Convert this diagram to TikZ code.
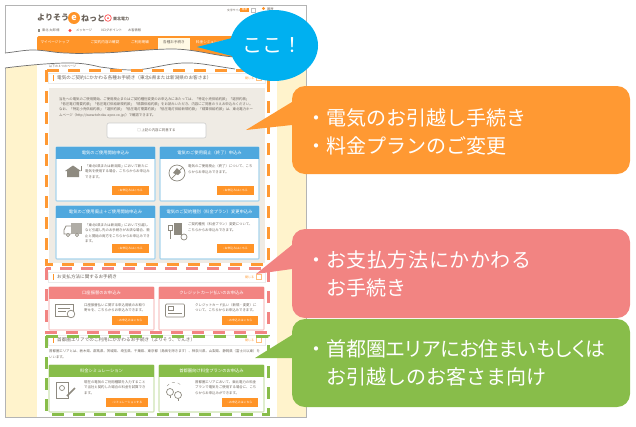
\documentclass[tikz,border=0pt]{standalone}
\usepackage{fontspec}
\setmainfont{Noto Sans CJK JP}
\newfontfamily\paltfont[RawFeature=+palt]{Noto Sans CJK JP}
\newfontfamily\widefont[LetterSpace=3]{Noto Sans CJK JP}
\usepackage{xcolor}
\definecolor{creambg}{HTML}{FFF3CC}
\definecolor{panelgrey}{HTML}{EFEBE4}
\definecolor{pageline}{HTML}{B4B4B4}
\definecolor{tearline}{HTML}{6E6E6E}
\definecolor{iconcol}{HTML}{8E8A80}
\definecolor{inktext}{HTML}{6A625A}
\definecolor{tiporange}{HTML}{FF9933}
\definecolor{btnorange}{HTML}{FF9428}
\definecolor{tipblue}{HTML}{00B0F0}
\definecolor{tippink}{HTML}{F28482}
\definecolor{tipgreen}{HTML}{88BD4A}
\definecolor{headblue}{HTML}{4FA8DE}
\definecolor{lineblue}{HTML}{A8D4EE}
\definecolor{linepink}{HTML}{F8C8C8}
\definecolor{linegreen}{HTML}{CFE4B4}
\newcommand{\appcard}[8]{%
  \fill[white] (#2,#3) rectangle (#4,#5);
  \draw[#7,line width=1.1pt,rounded corners=0.8pt] (#2,#3) rectangle (#4,#5);
  \fill[#6] (#2,#3) rectangle (#4,#3+12);
  \node[cardhead] (#1) at ({(#2+#4)/2},#3+6) {#8};
}
\newcommand{\appbtn}[6]{%
  \fill[btnorange] (#2,#3) rectangle (#4,#5);
  \node[btntext] (#1) at ({(#2+#4)/2},{(#3+#5)/2}) {› #6};
}
\newcommand{\secthead}[3]{%
  \draw[black!8] (48,#2-5) rectangle (265,#2+5);
  \fill[btnorange] (52.5,#2-3) rectangle (54,#2+3);
  \node[secttitle] (#1) at (57,#2) {#3};
  \node[closetext] (#1c) at (245,#2) {閉じる};
  \draw[btnorange!60] (256,#2-2.5) rectangle (261,#2+2.5);
}
\begin{document}
\begin{tikzpicture}[x=1pt,y=-1pt]
	\tikzset{
		cardhead/.style={font=\fontsize{4.3}{5}\selectfont,text=white,inner sep=0},
		btntext/.style={font=\fontsize{2.9}{4}\selectfont,text=white,inner sep=0},
		secttitle/.style={font=\fontsize{4.6}{5}\selectfont,text=inktext,anchor=west,inner sep=0},
		closetext/.style={font=\fontsize{3}{4}\selectfont,text=btnorange,anchor=west,inner sep=0},
		bodytext/.style={font=\fontsize{3.4}{5.4}\selectfont,text=inktext,anchor=north west,align=left,inner sep=0},
		navtext/.style={font=\fontsize{3.2}{4}\selectfont,text=inktext,anchor=west,inner sep=0},
		tabtext/.style={font=\fontsize{3.6}{4}\selectfont,text=white,inner sep=0},
		tiptext/.style={font=\fontsize{20}{28}\selectfont,text=white,anchor=north west,align=left,inner sep=0},
		logotext/.style={font=\fontsize{8}{9}\selectfont\bfseries,text=inktext,anchor=west,inner sep=0},
		iconline/.style={iconcol,line width=0.7pt},
		dashbox/.style={line width=3pt,dash pattern=on 12pt off 9pt},
	}
	\useasboundingbox (0,0) rectangle (636,426);
	
	% page
	\fill[creambg] (5,5) rectangle (37,417);
	\fill[creambg] (277,5) rectangle (306,417);
	\fill[white] (5,5) rectangle (306,60);
	\draw[pageline,line width=1pt] (5,5) rectangle (306,417);
	
	% header of the page
	\node[logotext] (logoa) at (37,18) {よりそう};
	\fill[btnorange] (74,18) circle (6);
	\node[font=\fontsize{9}{9}\selectfont\bfseries,text=white,inner sep=0] (logoe) at (74,17.6) {e};
	\node[logotext] (logob) at (81,18) {ねっと};
	\draw[red!70,line width=0.7pt] (108,18) circle (3.3);
	\fill[red!70] (108,18) circle (1);
	\node[font=\fontsize{4}{5}\selectfont\bfseries,text=inktext,anchor=west,inner sep=0] (logoc) at (113,19) {東北電力};
	\fill[iconcol] (38,28.5) rectangle (40,31.5);
	\node[navtext] (navname) at (42,30) {東北\ 太郎\ 様};
	\fill[red!75] (70,30.5) circle (1.7);
	\node[navtext] (navmsg) at (76,30) {メッセージ};
	\node[navtext] (navpoint) at (101,30) {0ログポイント};
	\node[navtext] (navinfo) at (128,30) {お客情報};
	\node[font=\fontsize{2.8}{3}\selectfont,text=inktext,anchor=west,inner sep=0] (sizetext) at (227,10) {文字サイズ};
	\fill[btnorange] (240,8) rectangle (249,12);
	\node[font=\fontsize{2.6}{3}\selectfont,text=white,inner sep=0] (sizemid) at (244.5,10) {標準};
	\draw[black!25,line width=0.3pt] (251,8) rectangle (255,12);
	\fill[btnorange] (263.5,8.5) circle (1.6);
	\node[navtext] (helptext) at (267,9) {履歴};
	
	% tabs
	\fill[btnorange,rounded corners=1.5pt] (37,36) rectangle (240,60);
	\fill[creambg!50] (158,38) rectangle (190,60);
	\node[tabtext] (taba) at (55,42) {マイページトップ};
	\node[tabtext] (tabb) at (105,42) {ご契約内容の確認};
	\node[tabtext] (tabc) at (140,42) {ご利用明細};
	\node[tabtext,text=inktext] (tabd) at (174,42) {各種お手続き};
	\node[tabtext] (tabe) at (214,42) {料金シミュレーション};
	
	% tear
	\fill[white] (5,53) .. controls (15,52) and (24,50) .. (33,50) .. controls (45,50) and (55,53) .. (67,53)
		.. controls (80,54) and (90,53) .. (100,53) .. controls (115,53) and (150,49) .. (172,49)
		.. controls (195,49) and (215,56) .. (235,57) -- (306,57) -- (306,62) -- (235,69)
		.. controls (215,66) and (200,63) .. (190,63) .. controls (170,62) and (150,70) .. (133,70)
		.. controls (118,70) and (110,68) .. (100,67) .. controls (85,63) and (75,63) .. (67,63)
		.. controls (50,63) and (20,66) .. (5,68) -- cycle;
	\draw[tearline,line width=0.7pt] (5,53) .. controls (15,52) and (24,50) .. (33,50) .. controls (45,50) and (55,53) .. (67,53)
		.. controls (80,54) and (90,53) .. (100,53) .. controls (115,53) and (150,49) .. (172,49)
		.. controls (195,49) and (215,56) .. (235,57);
	\draw[tearline,line width=0.7pt] (5,68) .. controls (20,66) and (50,63) .. (67,63) .. controls (75,63) and (85,63) .. (100,67)
		.. controls (110,68) and (118,70) .. (133,70) .. controls (150,70) and (170,62) .. (190,63)
		.. controls (200,63) and (215,66) .. (235,69);
	\node[font=\fontsize{3}{4}\selectfont,text=inktext,anchor=west,inner sep=0] (sectlead) at (49,66) {以下の４つのページ};
	
	% section one
	\secthead{secta}{78}{電気のご契約にかかわる各種お手続き（東北6県または新潟県のお客さま）}
	\fill[panelgrey] (49,88) rectangle (265,263);
	\node[bodytext] (lawtext) at (59,97) {当社への電気のご使用開始、ご使用廃止またはご契約種別変更のお申込みにあたっては、「特定小売供給約款」「選択約款」\\「低圧電灯需要約款」「低圧電灯供給新規約款」「精算供給約款」をお読みいただき、内容にご同意のうえお申込みください。\\なお、「特定小売供給約款」「選択約款」「低圧電灯需要約款」「低圧電灯供給新規約款」「精算供給約款」は、東北電力ホー\\ムページ（http://www.tohoku-epco.co.jp/）で確認できます。};
	\draw[black!20,fill=white,rounded corners=2pt,line width=0.6pt] (107,123) rectangle (206,138);
	\node[font=\fontsize{3.4}{4}\selectfont,text=inktext,inner sep=0] (agree) at (156.5,130.5) {□ 上記の内容に同意する};
	
	\appcard{carda}{56}{147}{155}{201}{headblue}{lineblue}{電気のご使用開始申込み}
	\appcard{cardb}{160}{147}{259}{201}{headblue}{lineblue}{電気のご使用廃止（終了）申込み}
	\appcard{cardc}{56}{206}{155}{259}{headblue}{lineblue}{電気のご使用廃止＋ご使用開始申込み}
	\appcard{cardd}{160}{206}{259}{259}{headblue}{lineblue}{電気のご契約種別（料金プラン）変更申込み}
	\node[bodytext] (texta) at (85,164.5) {「東北6県または新潟県」において新たに\\電気を使用する場合、こちらからお申込み\\できます。};
	\node[bodytext] (textb) at (188,164.5) {電気のご使用廃止（終了）について、こち\\らからお申込みできます。};
	\node[bodytext] (textc) at (85,223.5) {「東北6県または新潟県」において引越し\\など引越し先のお手続きがお済な場合、廃\\止と開始の両方をこちらからお申込みでき\\ます。};
	\node[bodytext] (textd) at (188,222.5) {ご契約種別（料金プラン）変更について、\\こちらからお申込みできます。};
	\appbtn{btna}{112}{186}{149}{195}{お申込みはこちら}
	\appbtn{btnb}{217}{186}{254}{195}{お申込みはこちら}
	\appbtn{btnc}{112}{244}{149}{253}{お申込みはこちら}
	\appbtn{btnd}{217}{244}{254}{253}{お申込みはこちら}
	
	% icons, section one
	\fill[iconcol] (65,171) -- (73,165.5) -- (81,171) -- (79,171) -- (79,177) -- (67,177) -- (67,171) -- cycle;
	\draw[iconline] (81,171) -- (81,166);
	\draw[iconline] (177,173) circle (8);
	\draw[iconline] (171,179) -- (183,167);
	\fill[iconcol] (173,173) -- (177,168) -- (181,172) -- (178,175) -- cycle;
	\fill[iconcol!70] (71,223) rectangle (82,234);
	\draw[iconline] (71,226) -- (66,226) -- (64,230) -- (64,234) -- (71,234);
	\draw[iconline,fill=white] (68,235) circle (1.7) (77,235) circle (1.7);
	\draw[iconline] (168,225) rectangle (172,230);
	\draw[iconline] (170,230) -- (170,239);
	\fill[iconcol] (174,223) rectangle (182,235);
	\draw[iconline] (184,237) circle (3);
	
	% section two
	\secthead{sectb}{277}{お支払方法に関するお手続き}
	\appcard{carde}{49}{287}{154}{330}{tippink}{linepink}{口座振替のお申込み}
	\appcard{cardf}{159}{287}{264}{330}{tippink}{linepink}{クレジットカード払いのお申込み}
	\node[bodytext] (texte) at (84,303) {口座振替払いに関する申込用紙のお取り\\寄せを、こちらからお申込みできます。};
	\node[bodytext] (textf) at (195,303) {クレジットカード払い（新規・変更）に\\ついて、こちらからお申込みできます。};
	\appbtn{btne}{112}{316}{148}{325}{お申込みはこちら}
	\appbtn{btnf}{222}{316}{258}{325}{お申込みはこちら}
	\draw[iconline] (55.5,304) rectangle (73,316);
	\draw[iconline] (58,308) -- (70,308) (58,311) -- (66,311);
	\draw[iconline,fill=white] (71,314) circle (3.8);
	\draw[iconline,rounded corners=1pt] (165.5,304) rectangle (184.5,317);
	\draw[iconline] (168,313.5) -- (182,313.5);
	\draw[iconline] (168,306.5) rectangle (173,310.5);
	
	% section three
	\secthead{sectc}{340}{首都圏エリアでのご利用にかかわるお手続き（よりそう、でんき）}
	\node[bodytext] (areatext) at (49,349.5) {首都圏エリアとは、栃木県、群馬県、茨城県、埼玉県、千葉県、東京都（島嶼を除きます）、神奈川県、山梨県、静岡県（富士川以東）を\\いいます。};
	\appcard{cardg}{49}{365}{154}{412}{tipgreen}{linegreen}{料金シミュレーション}
	\appcard{cardh}{159}{365}{264}{412}{tipgreen}{linegreen}{首都圏向け料金プランのお申込み}
	\node[bodytext] (textg) at (84,380.5) {現在の電気のご利用種類を入力すること\\で当社と契約した場合の料金を試算でき\\ます。};
	\node[bodytext] (texth) at (195,380.5) {首都圏エリアにおいて、東北電力の料金\\プランで電気をご使用する場合に、こち\\らからお申込みができます。};
	\appbtn{btng}{106}{398}{148}{407}{シミュレーションする}
	\appbtn{btnh}{222}{398}{258}{407}{お申込みはこちら}
	\draw[iconline] (56,382) rectangle (68,398);
	\draw[iconline] (62,388) circle (2.5);
	\draw[iconcol,line width=1.5pt] (67,396) -- (75,388);
	\draw[iconline] (170,392) circle (3.5) (178,395) circle (3.5);
	\draw[iconline] (170,395.5) -- (170,398) (178,398.5) -- (178,401);
	\draw[iconcol,line width=0.3pt,dashed] (167,386) .. controls (170,381) and (178,381) .. (182,386);
	
	% dashed frames
	\draw[tiporange,dashbox] (46,70) rectangle (268,264);
	\draw[tippink,dashbox] (46,268) rectangle (268,332);
	\draw[tipgreen,dashbox] (46,336) rectangle (268,414);
	
	% callouts
	\fill[tipblue] (232,38) -- (197,47) -- (232,56) -- cycle;
	\fill[tipblue] (274,45.5) ellipse (44 and 35.5);
	\node[font=\fontsize{20}{20}\selectfont,text=white,inner sep=0] (herenote) at (272,45) {ここ！};
	
	\fill[tiporange] (292,102) -- (246,130) -- (292,125) -- cycle;
	\fill[tiporange,rounded corners=13pt] (292,86) rectangle (630,174);
	\node[tiptext] (movenote) at (306,108) {・電気のお引越し手続き\\・料金プランのご変更};
	
	\fill[tippink] (292,245) -- (256,274) -- (292,269) -- cycle;
	\fill[tippink,rounded corners=13pt] (292,229) rectangle (630,318);
	\node[tiptext] (paynote) at (306,250) {・{\widefont お支払方法にかかわる}\\\hspace*{1em}お手続き};
	
	\fill[tipgreen] (292,335) -- (255,358) -- (292,358) -- cycle;
	\fill[tipgreen,rounded corners=13pt] (292,319) rectangle (630,407);
	\node[tiptext] (areanote) at (306,339) {・首都圏{\paltfont エリアにお住まいもしくは}\\\hspace*{1em}お引越しのお客さま向け};
\end{tikzpicture}
\end{document}
